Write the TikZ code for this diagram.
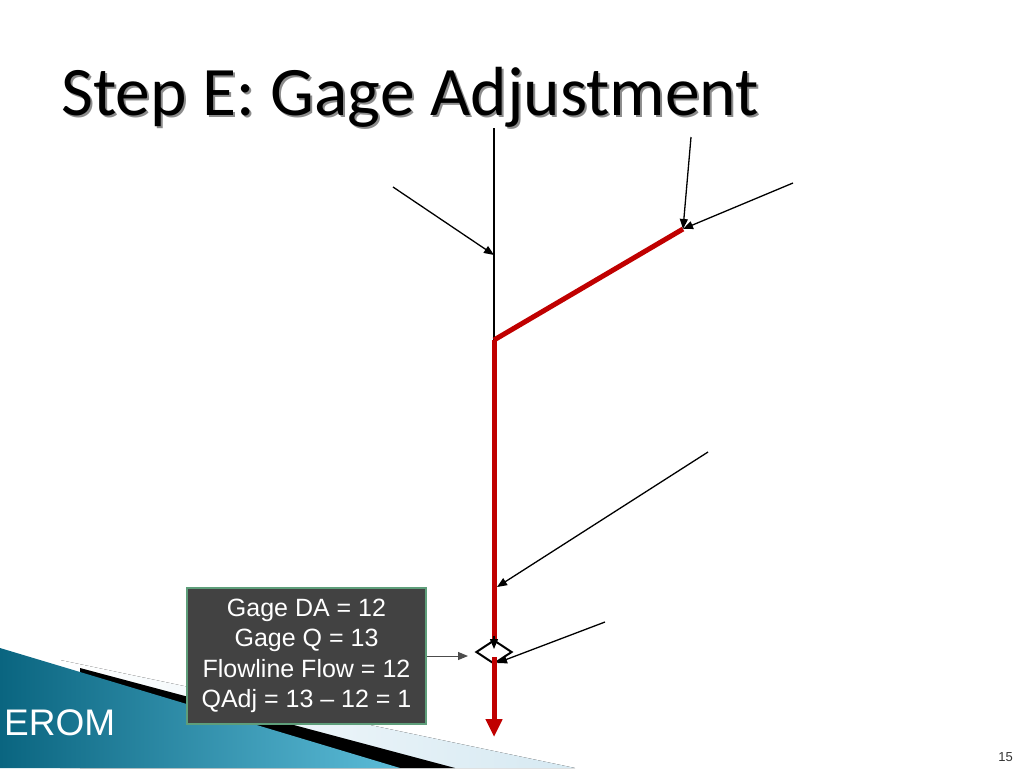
\documentclass[tikz,border=0pt]{standalone}
\usepackage{fontspec}
\setmainfont{Liberation Sans}
\newfontfamily\titlefont{Carlito}
\usetikzlibrary{arrows.meta}
\usetikzlibrary{shapes.geometric}
\definecolor{riverred}{HTML}{C00000}
\definecolor{boxgray}{HTML}{424242}
\definecolor{boxgreen}{HTML}{5E9E7A}
\definecolor{tealdark}{HTML}{0A6580}
\definecolor{teallight}{HTML}{5CBCD8}
\definecolor{paleblue}{HTML}{D6E9F2}
\tikzstyle{flow}=[draw, line width=1.3pt, -{Triangle[length=10pt,width=8pt]}]
\tikzstyle{reach}=[draw=riverred, line width=5pt]
\tikzstyle{gagebox}=[draw=boxgreen, line width=1.5pt, fill=boxgray, text=white, inner sep=0pt, minimum width=239pt, minimum height=136pt, align=center, font=\fontsize{25}{30.5}\selectfont]
\tikzstyle{gagemark}=[draw, diamond, line width=2pt, inner sep=0pt, minimum width=36pt, minimum height=24pt]

\begin{document}
\begin{tikzpicture}[x=1pt, y=-1pt]
        \useasboundingbox (0, 0) rectangle (1024, 768);
        % footer band
        \fill[left color=white, right color=paleblue] (60, 660) -- (575, 768) -- (60, 768) -- cycle;
        \fill[black] (80, 668) -- (455, 768) -- (80, 768) -- cycle;
        \shade[left color=tealdark, right color=teallight] (0, 648) -- (400, 768) -- (0, 768) -- cycle;
        \node[anchor=base west, inner sep=0pt, text=white, font=\fontsize{37}{37}\selectfont] (erom) at (4, 735) {EROM};
        \node[anchor=base east, inner sep=0pt, text=black!80, font=\fontsize{13}{13}\selectfont] (page) at (1013, 761) {15};
        % title
        \node[anchor=base west, inner sep=0pt, text=black!45, font=\titlefont\fontsize{69.5}{69.5}\selectfont] (titleshadow) at (63, 117) {Step E: Gage Adjustment};
        \node[anchor=base west, inner sep=0pt, font=\titlefont\fontsize{69.5}{69.5}\selectfont] (title) at (61, 115) {Step E: Gage Adjustment};
        % network
        \coordinate (top) at (494, 128);
        \coordinate (jn) at (494, 340);
        \coordinate (br) at (683, 229);
        \coordinate (tribA) at (393, 187);
        \coordinate (tribB) at (691, 137);
        \coordinate (tribC) at (793, 183);
        \coordinate (tribD) at (708, 452);
        \coordinate (tribE) at (605, 622);
        \coordinate (outlet) at (494, 737);
        \node[gagemark] (gage) at (494, 652) {};
        \node[gagebox] (info) at (306.5, 656) {Gage DA = 12\\Gage Q = 13\\Flowline Flow = 12\\QAdj = 13 -- 12 = 1};
        \coordinate (infoend) at (468, 656);
        \draw[line width=1.3pt] (top) -- (jn);
        \draw[reach] (jn) -- ([yshift=12pt]gage.center);
        \draw[reach] (jn) -- (br);
        \draw[flow] ([yshift=16pt]gage.center) -- ([yshift=3pt]gage.center);
        \draw[reach, -{Triangle[length=18pt,width=16pt]}] ([yshift=-5pt]gage.center) -- (outlet);
        \draw[flow] (tribA) -- (494, 255);
        \draw[flow] (tribB) -- (br);
        \draw[flow] (tribC) -- (br);
        \draw[flow] (tribD) -- (497, 587);
        \draw[flow] (tribE) -- (497, 663);
        \draw[flow, draw=black!70, line width=1pt] (info.east |- infoend) -- (infoend);
    \end{tikzpicture}
\end{document}
